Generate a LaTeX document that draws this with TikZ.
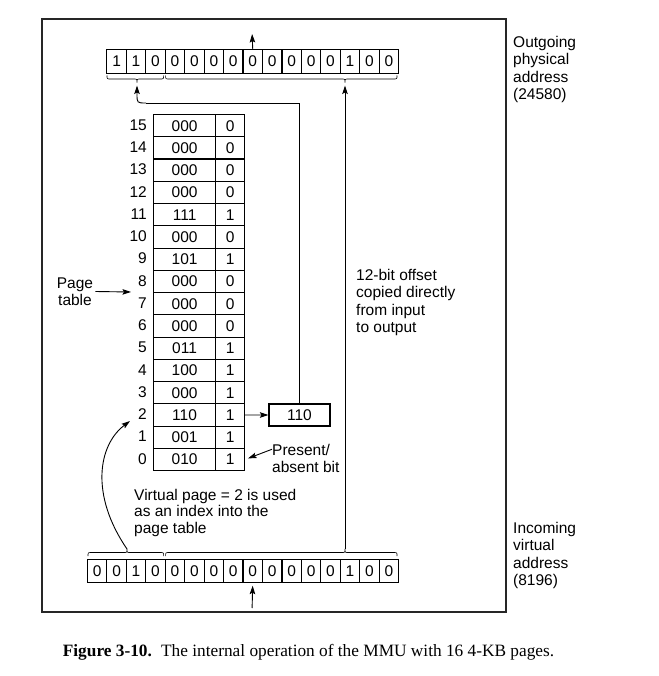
\documentclass[tikz,border=0pt]{standalone}
\usepackage{fontspec}
\setmainfont{Liberation Sans}
\newfontfamily\capfont{Liberation Serif}
\usetikzlibrary{arrows.meta}
\newcommand\regbrace[5]{% x1, x2, xtip, y0, sign
  \draw[bracel] ({#1},{#4}) .. controls ({#1},{#4+#5*3.5}) .. ({#1+3.5},{#4+#5*3.5})
    -- ({#3-3.5},{#4+#5*3.5}) .. controls ({#3},{#4+#5*3.5}) .. ({#3},{#4+#5*7})
    .. controls ({#3},{#4+#5*3.5}) .. ({#3+3.5},{#4+#5*3.5})
    -- ({#2-3.5},{#4+#5*3.5}) .. controls ({#2},{#4+#5*3.5}) .. ({#2},{#4});}
\begin{document}
\begin{tikzpicture}[x=1pt,y=-1pt,
  every node/.style={font=\fontsize{15.5}{17.3}\selectfont},
  bitcell/.style={draw,line width=1.2pt,minimum width=19.45pt,inner sep=0pt,anchor=north west},
  framecell/.style={draw,line width=1.2pt,minimum width=62pt,minimum height=22.25pt,inner sep=0pt,anchor=north west},
  pcell/.style={draw,line width=1.2pt,minimum width=29pt,minimum height=22.25pt,inner sep=0pt,anchor=north west},
  idx/.style={anchor=east,inner sep=0pt},
  lbl/.style={anchor=base west,align=left,inner sep=0pt},
  arr/.style={line width=0.9pt,-{Stealth[length=8.5pt,width=5.5pt,inset=1.5pt]}},
  conn/.style={line width=0.9pt},
  bracel/.style={line width=0.6pt},
  frame/.style={line width=1.4pt,draw=black!85}]
\useasboundingbox (0,0) rectangle (658,676);
\draw[frame] (42,19) rectangle (506,612);
% outgoing register
\foreach \b [count=\k from 0] in {1,1,0,0,0,0,0,0,0,0,0,0,1,0,0}
  \node[bitcell,minimum height=24pt] (o\k) at ({106.25+\k*19.45},49) {\b};
% incoming register
\foreach \b [count=\k from 0] in {0,0,1,0,0,0,0,0,0,0,0,0,0,1,0,0}
  \node[bitcell,minimum height=23pt] (i\k) at ({86.8+\k*19.45},559) {\b};
% braces
\regbrace{107}{163.6}{137}{75.5}{1}
\regbrace{165.6}{397}{345}{75.5}{1}
\regbrace{88}{163.6}{127}{556}{-1}
\regbrace{165.6}{397}{345}{556}{-1}
\coordinate (ob1) at (137,82.5);
\coordinate (ob2) at (345,82.5);
\coordinate (ib1) at (127,549);
\coordinate (ib2) at (345,549);
% page table
\foreach \i/\f/\p in {15/000/0,14/000/0,13/000/0,12/000/0,11/111/1,10/000/0,9/101/1,8/000/0,
  7/000/0,6/000/0,5/011/1,4/100/1,3/000/1,2/110/1,1/001/1,0/010/1}{
  \node[framecell] (f\i) at (153,{114+(15-\i)*22.25}) {\f};
  \node[pcell] (p\i) at (215,{114+(15-\i)*22.25}) {\p};
  \node[idx] (n\i) at (147,{114+(15-\i)*22.25+11.1}) {\i};
}
\node[draw,line width=1.2pt,minimum width=61pt,minimum height=22pt,inner sep=0pt] (box) at (299.5,415) {110};
\draw[arr] (p2.east) -- (box.west);
\coordinate (turn) at (299.5,103);
\coordinate (bend) at (146,103);
\draw[conn] (box.north) -- (turn) -- (bend);
\draw[arr] (bend) .. controls (137,103) .. (137,94) -- ([yshift=-3pt]ob1);
\draw[arr,shorten >=3pt] (ib2) -- (ob2);
% in/out arrows
\coordinate (outtop) at (252.1,34);
\coordinate (inbot) at (252.1,608);
\draw[arr] (o7.north) -- (outtop);
\draw[arr,shorten >=2.5pt] (inbot) -- (i8.south);
% labels
\node[align=center,inner sep=2pt] (ptl) at (75,291.5) {Page\\table};
\coordinate (ptend) at (131,292);
\draw[arr] (ptl.east) -- (ptend);
\node[lbl] (pab) at (272,472.5) {Present/\\absent bit};
\draw[arr,shorten >=3pt] (pab.165) -- (p0.east);
\node[lbl] (off) at (356,332.5) {12-bit offset\\copied directly\\from input\\to output};
\node[lbl,font=\fontsize{15.5}{16.7}\selectfont] (vp) at (134,533.5) {Virtual page = 2 is used\\as an index into the\\page table};
\coordinate (idx2) at (130,421);
\draw[arr] (ib1) .. controls (90,495) and (98,445) .. (idx2);
\node[lbl] (outl) at (513,99.5) {Outgoing\\physical\\address\\(24580)};
\node[lbl] (inl) at (513,585.5) {Incoming\\virtual\\address\\(8196)};
% caption
\node[font=\capfont\fontsize{17.3}{20}\selectfont,inner sep=0pt] (cap) at (308.5,652)
  {\textbf{Figure 3-10.}\hspace{0.2em} The internal operation of the MMU with 16 4-KB pages.};
\end{tikzpicture}
\end{document}
